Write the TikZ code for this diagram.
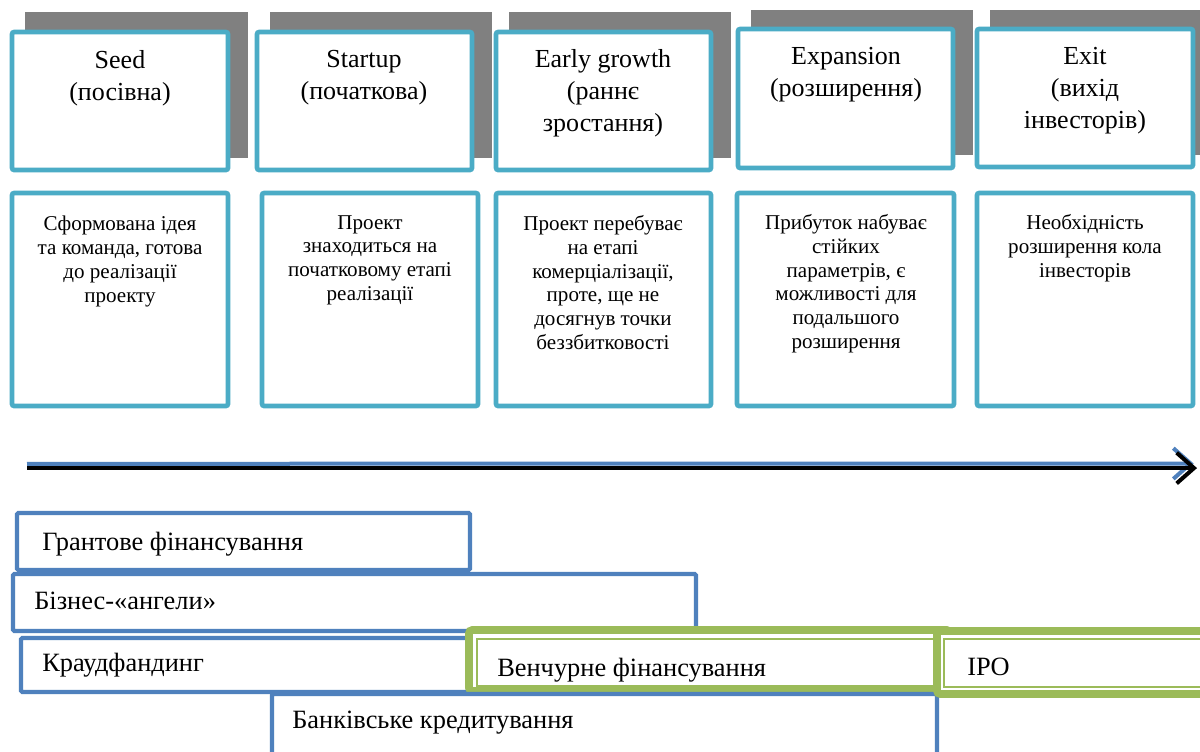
\documentclass[tikz,border=0pt]{standalone}
\usepackage{fontspec}
\setmainfont{Liberation Serif}
\usetikzlibrary{fit,arrows.meta}
\definecolor{cyanb}{HTML}{4BACC6}
\definecolor{blueb}{HTML}{4F81BD}
\definecolor{greenb}{HTML}{9BBB59}
\definecolor{shade}{HTML}{808080}
\begin{document}
\begin{tikzpicture}[x=0.75pt,y=-0.75pt,
 topbox/.style={draw=cyanb,line width=3.4pt,fill=white,rounded corners=1.5pt,inner sep=0pt},
 shadowbox/.style={fill=shade,draw=none,inner sep=0pt},
 descbox/.style={draw=cyanb,line width=3.4pt,fill=white,rounded corners=1.5pt,inner sep=0pt},
 fundbox/.style={draw=blueb,line width=3.2pt,fill=white,inner sep=0pt,rounded corners=1pt},
 gouter/.style={draw=greenb,line width=5.8pt,fill=white,inner sep=0pt,rounded corners=2.5pt},
 ginner/.style={draw=greenb,line width=1.5pt,inner sep=0pt},
 ttl/.style={font=\fontsize{19.5}{24}\selectfont,align=center,anchor=north,inner sep=0pt},
 dsc/.style={font=\fontsize{15.8}{17.9}\selectfont,align=center,anchor=north,inner sep=0pt},
 fnd/.style={font=\fontsize{19.8}{24}\selectfont,anchor=base west,inner sep=0pt},
 axisline/.style={line width=3pt,-{Straight Barb[length=13pt,width=23pt]}}
]
\useasboundingbox (0,0) rectangle (1200,751);
\clip (0,0) rectangle (1200,751);
\fill[white] (0,0) rectangle (1200,751);

% shadows
\node[shadowbox, fit={(25,12)(248,158)}] (s1) {};
\node[shadowbox, fit={(270,12)(492,158)}] (s2) {};
\node[shadowbox, fit={(509,12)(731,158)}] (s3) {};
\node[shadowbox, fit={(751,10)(973,155)}] (s4) {};
\node[shadowbox, fit={(990,10)(1210,155)}] (s5) {};

% stage boxes
\node[topbox, fit={(12,32)(228,170)}] (t1) {};
\node[topbox, fit={(257,32)(472,170)}] (t2) {};
\node[topbox, fit={(496,32)(711,170)}] (t3) {};
\node[topbox, fit={(738,29)(953,168)}] (t4) {};
\node[topbox, fit={(977,29)(1193,167)}] (t5) {};

\node[ttl] (t1t) at (120,50) {Seed\\(посівна)};
\node[ttl] (t2t) at (364,50) {Startup\\(початкова)};
\node[ttl] (t3t) at (603,49) {Early growth\\(раннє\\зростання)};
\node[ttl] (t4t) at (846,47) {Expansion\\(розширення)};
\node[ttl] (t5t) at (1085,47) {Exit\\(вихід\\інвесторів)};

% description boxes
\node[descbox, fit={(12,193)(228,406)}] (d1) {};
\node[descbox, fit={(262,193)(478,406)}] (d2) {};
\node[descbox, fit={(496,193)(711,406)}] (d3) {};
\node[descbox, fit={(737,193)(954,406)}] (d4) {};
\node[descbox, fit={(977,193)(1193,406)}] (d5) {};

\node[dsc] (d1t) at (120,216) {Сформована ідея\\та команда, готова\\до реалізації\\проекту};
\node[dsc] (d2t) at (370,215) {Проект\\знаходиться на\\початковому етапі\\реалізації};
\node[dsc] (d3t) at (603,215) {Проект перебуває\\на етапі\\комерціалізації,\\проте, ще не\\досягнув точки\\беззбитковості};
\node[dsc] (d4t) at (846,214) {Прибуток набуває\\стійких\\параметрів, є\\можливості для\\подальшого\\розширення};
\node[dsc] (d5t) at (1085,214) {Необхідність\\розширення кола\\інвесторів};

% time axis
\coordinate (axs) at (27,467);
\coordinate (axe) at (1197,467);
\draw[axisline, draw=blueb] ([yshift=2.4pt]axs) -- ([yshift=2.6pt,xshift=-2.5pt]axe);
\draw[axisline, draw=black] ([yshift=-0.8pt]axs) -- ([yshift=-0.8pt]axe);

% funding bars
\node[fundbox, fit={(17,513)(470,570)}] (f1) {};
\node[fundbox, fit={(13,574)(696,631)}] (f2) {};
\node[fundbox, fit={(21,638)(468,692)}] (f3) {};
\node[gouter, fit={(469,630)(950,691)}] (v1) {};
\node[ginner, fit={(477,639)(950,686)}] (v2) {};
\node[fundbox, fit={(272,694)(937,770)}] (f4) {};
\node[gouter, fit={(937,631)(1215,694)}] (i1) {};
\node[ginner, fit={(944,639)(1215,687)}] (i2) {};

\node[fnd] (f1t) at (42,550) {Грантове фінансування};
\node[fnd] (f2t) at (34,609) {Бізнес-«ангели»};
\node[fnd] (f3t) at (42,671) {Краудфандинг};
\node[fnd] (v1t) at (497,676) {Венчурне фінансування};
\node[fnd] (f4t) at (292,728) {Банківське кредитування};
\node[fnd] (i1t) at (967,675) {IPO};
\end{tikzpicture}
\end{document}
